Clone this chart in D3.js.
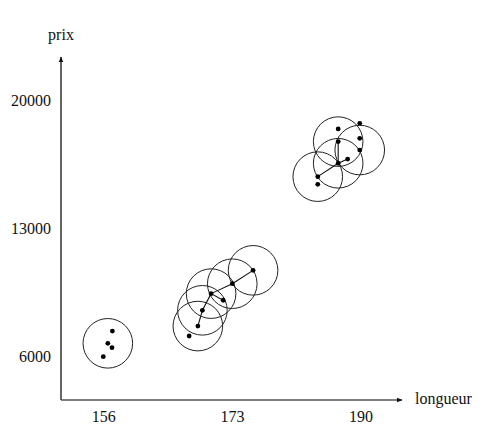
<!DOCTYPE html>
<html>
<head>
<meta charset="utf-8">
<script src="https://cdn.jsdelivr.net/npm/d3@7"></script>
<style>
  body { margin: 0; background: #fff; }
  svg text { font-family: "Liberation Serif", "DejaVu Serif", serif; fill: #111; }
</style>
</head>
<body>
<div id="chart"></div>
<script>
// Data
const longueur = [156.6, 157.2, 157.15, 156.0,
                  175.8, 173.05, 170.25, 171.85, 169.1, 168.5, 167.35,
                  187.05, 189.9, 187.05, 189.9, 189.9, 188.3, 187.05, 184.35, 184.35];
const prix = [6730, 7400, 6490, 6000,
              10710, 9980, 9440, 9080, 8530, 7670, 7130,
              18420, 18730, 17730, 17910, 17270, 16780, 16550, 15820, 15400];
// points carrying a neighbourhood circle
const centres = [0, 4, 5, 6, 8, 9, 13, 15, 17, 18];
// segments between points
const liens = [[4, 5], [5, 6], [6, 7], [6, 8], [8, 9],
               [13, 17], [17, 16], [17, 18]];
const xTicks = [156, 173, 190];
const yTicks = [6000, 13000, 20000];

const W = 491, H = 436;
const frame = { left: 61, bottom: 400, top: 57, right: 402 };
const radius = 24.8;

const svg = d3.select("#chart").append("svg")
    .attr("width", W)
    .attr("height", H);

let x = d3.scaleLinear().domain([156, 190]).range([103.3, 360.5]);
let y = d3.scaleLinear().domain([6000, 20000]).range([356.7, 100]);

// arrow head
svg.append("defs").append("marker")
    .attr("id", "arrow")
    .attr("viewBox", "0 0 10 10")
    .attr("refX", 9).attr("refY", 5)
    .attr("markerWidth", 6).attr("markerHeight", 6)
    .attr("markerUnits", "userSpaceOnUse")
    .attr("orient", "auto")
    .append("path")
    .attr("d", "M0,1 L10,5 L0,9 Z")
    .attr("fill", "#111");

// axis lines
svg.append("line")
    .attr("x1", frame.left).attr("y1", frame.bottom)
    .attr("x2", frame.left).attr("y2", frame.top)
    .attr("stroke", "#111").attr("stroke-width", 1.3)
    .attr("marker-end", "url(#arrow)");
svg.append("line")
    .attr("x1", frame.left).attr("y1", frame.bottom)
    .attr("x2", frame.right).attr("y2", frame.bottom)
    .attr("stroke", "#555").attr("stroke-width", 1.6)
    .attr("marker-end", "url(#arrow)");

// tick labels through d3 axes, no ticks or domain
const xAxis = d3.axisBottom(x).tickValues(xTicks).tickFormat(d3.format("d"))
    .tickSize(0).tickPadding(11);
const yAxis = d3.axisLeft(y).tickValues(yTicks).tickFormat(d3.format("d"))
    .tickSize(0).tickPadding(10);

const gx = svg.append("g")
    .attr("transform", "translate(0," + frame.bottom + ")")
    .call(xAxis);
const gy = svg.append("g")
    .attr("transform", "translate(" + frame.left + ",0)")
    .call(yAxis);
[gx, gy].forEach(g => {
  g.select(".domain").remove();
  g.attr("font-family", null).attr("font-size", null);
  g.selectAll("text").style("font-size", "16px").attr("fill", "#111");
});

// axis titles
svg.append("text")
    .attr("x", frame.left).attr("y", 40)
    .attr("text-anchor", "middle")
    .style("font-size", "16px")
    .text("prix");
svg.append("text")
    .attr("x", 415).attr("y", 404)
    .style("font-size", "16px")
    .text("longueur");

// circles
svg.append("g")
  .selectAll("circle")
  .data(centres)
  .join("circle")
    .attr("cx", i => x(longueur[i]))
    .attr("cy", i => y(prix[i]))
    .attr("r", radius)
    .attr("fill", "none")
    .attr("stroke", "#222")
    .attr("stroke-width", 1);

// links
svg.append("g")
  .selectAll("line")
  .data(liens)
  .join("line")
    .attr("x1", d => x(longueur[d[0]]))
    .attr("y1", d => y(prix[d[0]]))
    .attr("x2", d => x(longueur[d[1]]))
    .attr("y2", d => y(prix[d[1]]))
    .attr("stroke", "#111")
    .attr("stroke-width", 1.1);

// points
svg.append("g")
  .selectAll("circle")
  .data(longueur)
  .join("circle")
    .attr("cx", d => x(d))
    .attr("cy", (d, i) => y(prix[i]))
    .attr("r", 2.4)
    .attr("fill", "#000");
</script>
</body>
</html>
